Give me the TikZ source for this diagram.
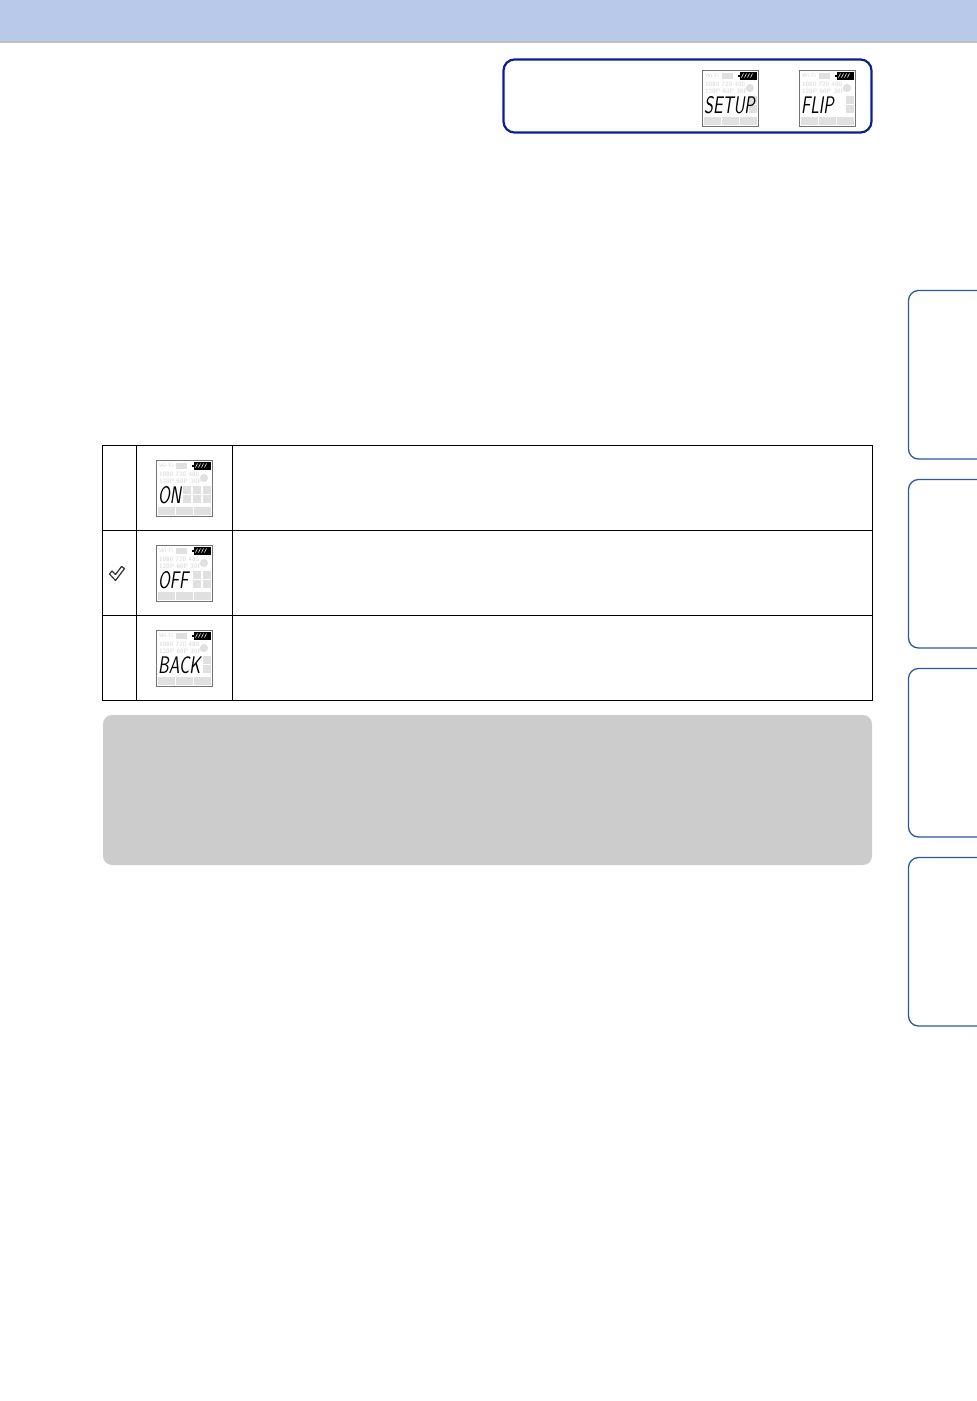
\documentclass[tikz,border=0pt]{standalone}
\usepackage{tikz}
\definecolor{bandblue}{HTML}{B8C9EA}
\definecolor{boxblue}{HTML}{0A1E96}
\definecolor{tabblue}{HTML}{2A5A9C}
\definecolor{notegray}{HTML}{CCCCCC}
\definecolor{faint}{HTML}{E0E0E0}
\tikzset{
  gridline/.style={draw=black,line width=0.9pt},
  tabbox/.style={draw=tabblue,line width=1.3pt,rounded corners=10pt},
  smalltxt/.style={inner sep=0pt,anchor=west,text=faint,font=\sffamily\bfseries\fontsize{6.4}{6.4}\selectfont},
  lcdword/.style={inner sep=0pt,anchor=west,xscale=.71,font=\sffamily\itshape\fontsize{24}{24}\selectfont}
}
% #1 name, #2 left, #3 top, #4 word, #5 columns of faint digits
\newcommand{\lcdicon}[5]{
  \begin{scope}[shift={(#2,#3)}]
    \node[draw=black!55,fill=white,line width=1.1pt,minimum width=56pt,minimum height=56pt,inner sep=0pt,anchor=north west] (#1) at (0,0) {};
    \node[smalltxt,font=\sffamily\bfseries\fontsize{5.5}{5.5}\selectfont] (#1wifi) at (3,6) {Wi-Fi};
    \fill[faint] (20,3) rectangle (31,9);
    \node[smalltxt] (#1res) at (3,14) {1080 720 480};
    \node[smalltxt] (#1fps) at (3,21) {120P 60P 30P};
    \fill[faint] (48,18) circle (4);
    % digits behind the word
    \foreach \c in {#5}{
      \fill[faint] (\c,26) rectangle (\c+8,33.5);
      \fill[faint] (\c,35) rectangle (\c+8,42.5);
    }
    % battery
    \draw[fill=black] (38,2) rectangle (54,9);
    \foreach \i in {0,3,6,9}
      \draw[white,line width=0.6pt] (41.5+\i,3.5) -- (39.5+\i,7.5);
    \fill (36,4.5) rectangle (38,6.5);
    % mode keys
    \foreach \i in {0,1,2}
      \fill[faint] (2+\i*18,46.5) rectangle (19+\i*18,54.5);
    \node[lcdword] (#1word) at (2,35) {#4};
  \end{scope}
}
\begin{document}
\begin{tikzpicture}[x=1pt,y=-1pt]
  \useasboundingbox (0,0) rectangle (977,1401);
  % header band
  \fill[bandblue] (0,0) rectangle (977,41);
  \fill[black!25] (0,41) rectangle (977,42.5);
  % path box
  \draw[boxblue,line width=2.2pt,rounded corners=11pt] (503.5,59.5) rectangle (871.5,132.5);
  \lcdicon{setup}{702}{70}{SETUP}{47}
  \lcdicon{flip}{799}{70}{FLIP}{47}
  % table
  \draw[gridline] (102.5,445.5) rectangle (872.5,700.5);
  \foreach \y in {530.5,615.5}
    \draw[gridline] (102.5,\y) -- (872.5,\y);
  \foreach \x in {136.5,232.5}
    \draw[gridline] (\x,445.5) -- (\x,700.5);
  \lcdicon{on}{156}{460}{ON}{27,37,47}
  \lcdicon{off}{156}{545}{OFF}{37,47}
  \lcdicon{back}{156}{630}{BACK}{47}
  % check mark
  \draw[black!80,line width=1.2pt,fill=white,line join=round] (109.5,574) -- (112,571) -- (115.5,574.5) -- (121.5,566.5) -- (124.5,568.5) -- (115.5,580.5) -- cycle;
  % note box
  \fill[notegray,rounded corners=9pt] (103,715) rectangle (872,865);
  % side tabs
  \foreach \y in {290.5,479.5,668.5,857.5}
    \draw[tabbox] (990,\y) -- (908.5,\y) -- (908.5,\y+168.5) -- (990,\y+168.5);
\end{tikzpicture}
\end{document}
